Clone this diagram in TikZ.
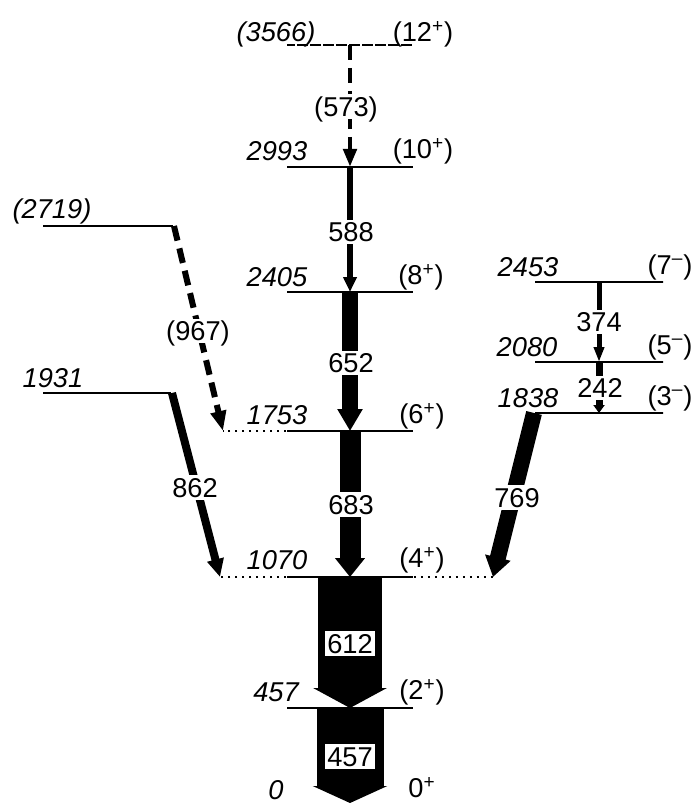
\documentclass[tikz,border=0pt]{standalone}
\usepackage{fontspec}
\setmainfont{Liberation Sans}
\usetikzlibrary{arrows.meta}

\tikzset{
  lev/.style={draw, line width=0.04cm, inner sep=0pt, minimum height=0pt, minimum width=2.52cm},
  ext/.style={line width=0.035cm, dash pattern=on 0.04cm off 0.1cm},
  en/.style={font=\fontsize{15.5}{18}\selectfont\itshape, inner sep=0pt},
  spin/.style={font=\fontsize{15.5}{18}\selectfont, inner sep=0pt},
  egam/.style={font=\fontsize{15.5}{18}\selectfont, fill=white, inner sep=0.05cm, text height=0.4cm, text depth=0cm},
}

\begin{document}
\begin{tikzpicture}[x=0.02cm, y=-0.02cm]
  \useasboundingbox (0,0) rectangle (699,803);
  % Levels
  \node[lev, dash pattern=on 0.16cm off 0.1cm] (l3566) at (350,45) {};
  \node[lev] (l2993) at (350,167) {};
  \node[lev] (l2405) at (350,292) {};
  \node[lev] (l1753) at (350,431) {};
  \node[lev] (l1070) at (350,577) {};
  \node[lev] (l457) at (350,708) {};
  \coordinate (l0) at (350,803);
  \node[lev, minimum width=2.6cm, dash pattern=on 0.16cm off 0.1cm] (l2719) at (108,226) {};
  \node[lev, minimum width=2.56cm] (l1931) at (107,393) {};
  \node[lev, minimum width=2.56cm] (l2453) at (599,282) {};
  \node[lev, minimum width=2.56cm] (l2080) at (599,362) {};
  \node[lev, minimum width=2.56cm] (l1838) at (599,413) {};
  \coordinate (x1753) at (223,431);
  \coordinate (x1070w) at (220,577);
  \coordinate (x1070e) at (493,577);
  \draw[ext] (l1753.west) -- (x1753);
  \draw[ext] (l1070.west) -- (x1070w);
  \draw[ext] (l1070.east) -- (x1070e);

  % Transitions
  \draw[line width=0.09cm, dash pattern=on 0.3cm off 0.16cm, -{Triangle[length=0.36cm,width=0.26cm]}] (l3566.center) -- (l2993.center);
  \draw[line width=0.12cm, -{Triangle[length=0.3cm,width=0.26cm]}] (l2993.center) -- (l2405.center);
  \draw[line width=0.32cm, -{Triangle[length=0.44cm,width=0.48cm]}] (l2405.center) -- (l1753.center);
  \draw[line width=0.42cm, -{Triangle[length=0.38cm,width=0.58cm]}] (l1753.center) -- (l1070.center);
  \draw[line width=1.28cm, -{Triangle[length=0.4cm,width=1.46cm]}] (l1070.center) -- (l457.center);
  \draw[line width=1.34cm, -{Triangle[length=0.34cm,width=1.48cm]}] (l457.center) -- (l0);
  \draw[line width=0.12cm, dash pattern=on 0.3cm off 0.16cm, -{Triangle[length=0.4cm,width=0.3cm]}] (l2719.east) -- (x1753);
  \draw[line width=0.16cm, -{Triangle[length=0.36cm,width=0.32cm]}] (l1931.east) -- (x1070w);
  \draw[line width=0.32cm, -{Triangle[length=0.4cm,width=0.5cm]}] (l1838.west) -- (x1070e);
  \draw[line width=0.1cm, -{Triangle[length=0.3cm,width=0.2cm]}] (l2453.center) -- (l2080.center);
  \draw[line width=0.14cm, -{Triangle[length=0.16cm,width=0.22cm]}] (l2080.center) -- (l1838.center);

  % Energies and spins
  \node[en] (e3566) at (276,34) {(3566)};
  \node[spin] (s3566) at (423,34) {(12\textsuperscript{+})};
  \node[en] (e2993) at (277,151) {2993};
  \node[spin] (s2993) at (423,151) {(10\textsuperscript{+})};
  \node[en] (e2405) at (277,277) {2405};
  \node[spin] (s2405) at (421,277) {(8\textsuperscript{+})};
  \node[en] (e1753) at (277,415) {1753};
  \node[spin] (s1753) at (422,416) {(6\textsuperscript{+})};
  \node[en] (e1070) at (277,560) {1070};
  \node[spin] (s1070) at (422,560) {(4\textsuperscript{+})};
  \node[en] (e457) at (276,692) {457};
  \node[spin] (s457) at (422,692) {(2\textsuperscript{+})};
  \node[en] (e0) at (276,790) {0};
  \node[spin] (s0) at (422,788) {0\textsuperscript{+}};
  \node[en] (e2719) at (52,211) {(2719)};
  \node[en] (e1931) at (53,378) {1931};
  \node[en] (e2453) at (528,267) {2453};
  \node[spin] (s2453) at (670,267) {(7\textsuperscript{–})};
  \node[en] (e2080) at (527,347) {2080};
  \node[spin] (s2080) at (670,347) {(5\textsuperscript{–})};
  \node[en] (e1838) at (528,398) {1838};
  \node[spin] (s1838) at (670,398) {(3\textsuperscript{–})};

  % Gamma energies
  \node[egam] (g573) at (346,107) {(573)};
  \node[egam] (g588) at (351,232) {588};
  \node[egam] (g652) at (351,363) {652};
  \node[egam] (g683) at (351,504) {683};
  \node[egam] (g612) at (350,643) {612};
  \node[egam] (g457) at (350,756) {457};
  \node[egam] (g967) at (198,331) {(967)};
  \node[egam] (g862) at (195,487) {862};
  \node[egam] (g769) at (517,497) {769};
  \node[egam] (g374) at (599,322) {374};
  \node[egam] (g242) at (600,388) {242};
\end{tikzpicture}
\end{document}
